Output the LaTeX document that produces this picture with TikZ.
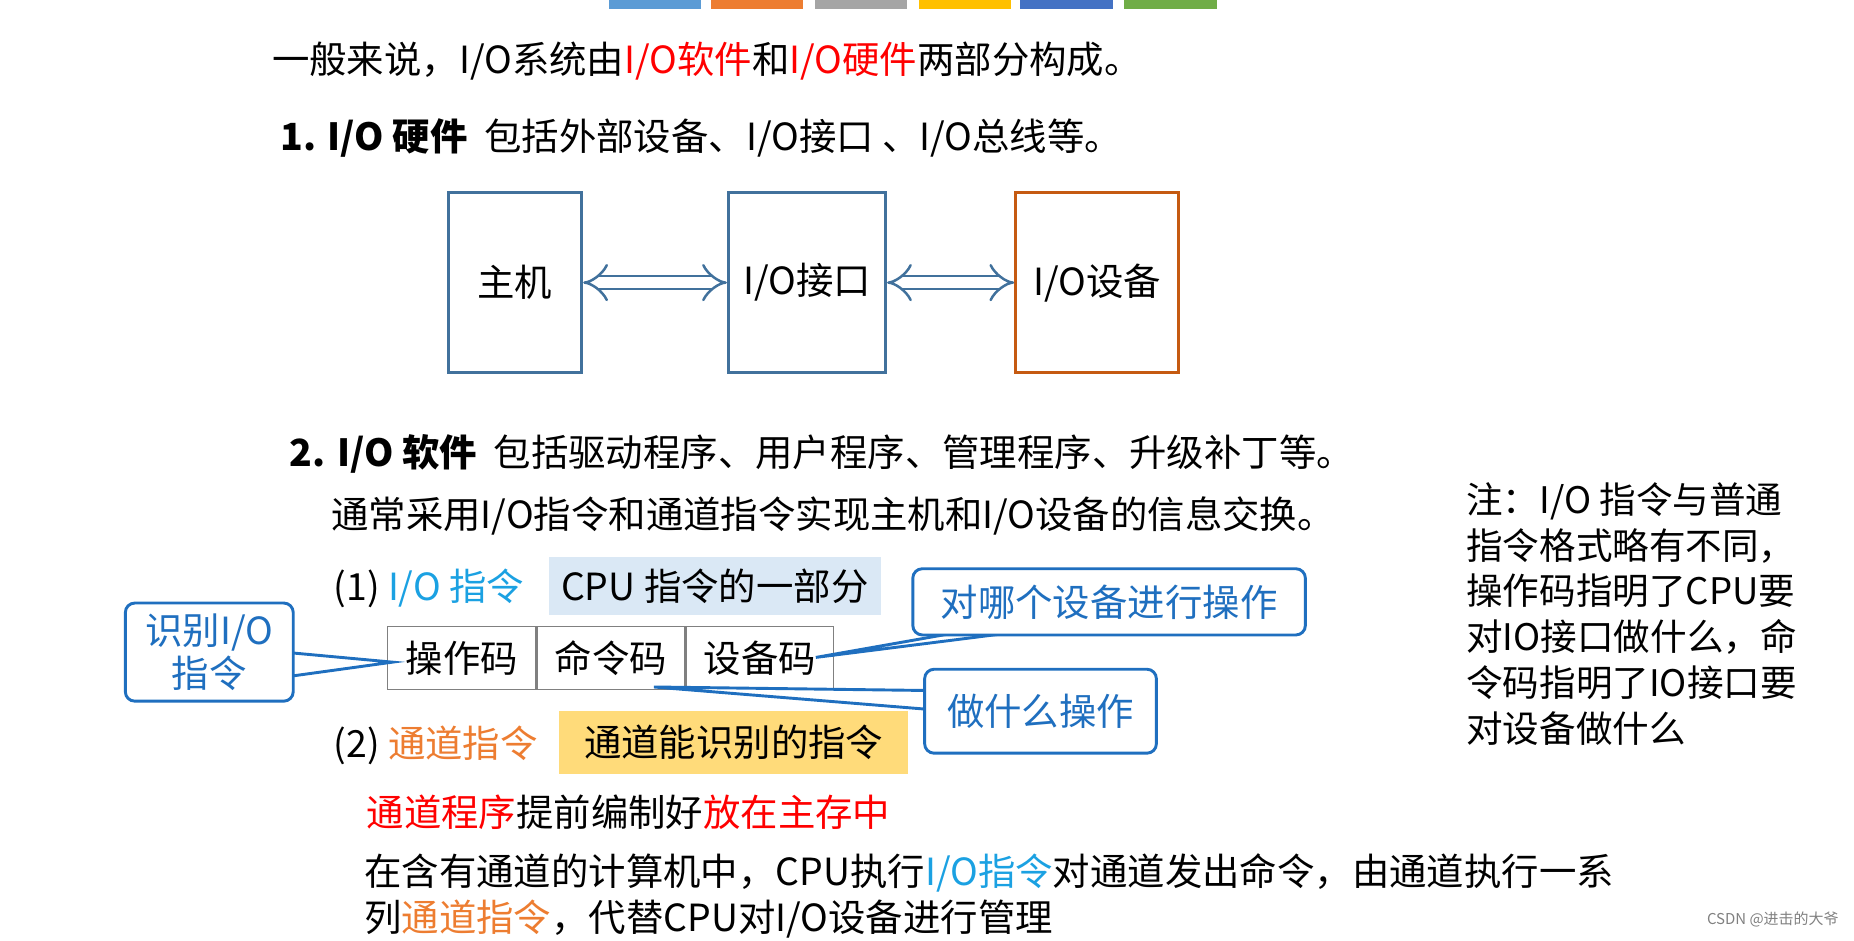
\documentclass[tikz,border=0pt]{standalone}
\usepackage{fontspec}
\setmainfont{Noto Sans CJK SC}
\usetikzlibrary{arrows.meta,positioning}
\definecolor{boxblue}{HTML}{41719C}
\definecolor{boxorange}{HTML}{C55A11}
\definecolor{iblue}{HTML}{1BA1E2}
\definecolor{iorange}{HTML}{ED7D31}
\definecolor{callblue}{HTML}{1F6FBF}
\definecolor{cpubg}{HTML}{DAE8F5}
\definecolor{chanbg}{HTML}{FFDB7A}
\newcommand{\bigtxt}{\fontsize{45}{52}\selectfont}
\newcommand{\redt}[1]{\textcolor{red}{#1}}
\tikzset{
  txt/.style={anchor=west, inner sep=0pt, font=\bigtxt},
  blk/.style={draw=boxblue, line width=3.5pt, font=\bigtxt},
  cell/.style={draw=gray, line width=1.5pt, minimum width=62.5mm, minimum height=26.5mm, inner sep=0pt, font=\bigtxt},
  call/.style={draw=callblue, fill=white, line width=3.5pt, rounded corners=4mm, font=\bigtxt, text=callblue, align=center, inner sep=1mm},
  dbl/.style={double=white, double distance=4.5mm, line width=3pt, draw=boxblue, {Implies[]}-{Implies[]}}
}
\begin{document}
\begin{tikzpicture}[x=0.5mm, y=-0.5mm]
  \useasboundingbox (0,0) rectangle (1568,795);
  % colour bars on top
  \foreach \x/\c in {515/5B9BD5, 601/ED7D31, 689/A5A5A5, 777/FFC000, 863/4472C4, 951/70AD47}
    {\definecolor{bar}{HTML}{\c}\fill[bar] (\x,0) rectangle +(78,8);}
  % heading lines
  \node[txt] (intro) at (230,52) {一般来说，I/O系统由\redt{I/O软件}和\redt{I/O硬件}两部分构成。};
  \node[txt] (hw) at (237,117) {\textbf{1. I/O 硬件}\ \ 包括外部设备、I/O接口 、I/O总线等。};
  % hardware blocks
  \node[blk, minimum width=56.5mm, minimum height=76mm] (host) at (435.5,239) {主机};
  \node[blk, minimum width=66.5mm, minimum height=76mm] (iface) at (682.5,239) {I/O接口};
  \node[blk, draw=boxorange, minimum width=69mm, minimum height=76mm] (dev) at (928,239) {I/O设备};
  \draw[dbl] (host.east) -- (iface.west);
  \draw[dbl] (iface.east) -- (dev.west);
  % software
  \node[txt] (sw) at (245,384) {\textbf{2. I/O 软件}\ \ 包括驱动程序、用户程序、管理程序、升级补丁等。};
  \node[txt] (usual) at (280,436) {通常采用I/O指令和通道指令实现主机和I/O设备的信息交换。};
  \node[anchor=north west, inner sep=0pt, align=left, font=\fontsize{44}{55}\selectfont] (note) at (1240,408)
    {注：I/O 指令与普通\\指令格式略有不同，\\操作码指明了CPU要\\对IO接口做什么，命\\令码指明了IO接口要\\对设备做什么};
  % I/O instruction
  \node[txt] (ioins) at (282,498) {(1) \textcolor{iblue}{I/O 指令}};
  \node[fill=cpubg, minimum width=140.5mm, minimum height=24.5mm, font=\bigtxt] (cpu) at (604.5,495.5) {CPU 指令的一部分};
  \node[cell] (opc) at (390.5,556.5) {操作码};
  \node[cell, right=0pt of opc] (cmd) {命令码};
  \node[cell, right=0pt of cmd] (devc) {设备码};
  % callouts
  \coordinate (tipA) at (332,560);
  \coordinate (tipB) at (690,556);
  \coordinate (tipC) at (553,581);
  \fill[white, draw=callblue, line width=3.5pt] (tipA) -- (245,552) -- (245,572) -- cycle;
  \fill[white, draw=callblue, line width=3.5pt] (tipB) -- (826,532) -- (880,532) -- cycle;
  \fill[white, draw=callblue, line width=3.5pt] (tipC) -- (786,584) -- (786,600) -- cycle;
  \node[call, minimum width=71mm, minimum height=41.5mm] (identify) at (177,551.5) {识别I/O\\指令};
  \node[call, minimum width=166mm, minimum height=28mm] (which) at (938,509) {对哪个设备进行操作};
  \node[call, minimum width=98mm, minimum height=35.5mm] (what) at (880,601.5) {做什么操作};
  % channel instruction
  \node[txt] (chins) at (282,630) {(2) \textcolor{iorange}{通道指令}};
  \node[fill=chanbg, minimum width=147.5mm, minimum height=27mm, font=\bigtxt] (chan) at (620.5,628) {通道能识别的指令};
  \node[txt] (prog) at (310,687) {\redt{通道程序}提前编制好\redt{放在主存中}};
  \node[txt] (para1) at (308,738) {在含有通道的计算机中，CPU执行\textcolor{iblue}{I/O指令}对通道发出命令，由通道执行一系};
  \node[txt] (para2) at (308,777) {列\textcolor{iorange}{通道指令}，代替CPU对I/O设备进行管理};
  \node[anchor=east, inner sep=0pt, font=\fontsize{18}{20}\selectfont, text=gray] (mark) at (1555,778) {CSDN @进击的大爷};
\end{tikzpicture}
\end{document}
